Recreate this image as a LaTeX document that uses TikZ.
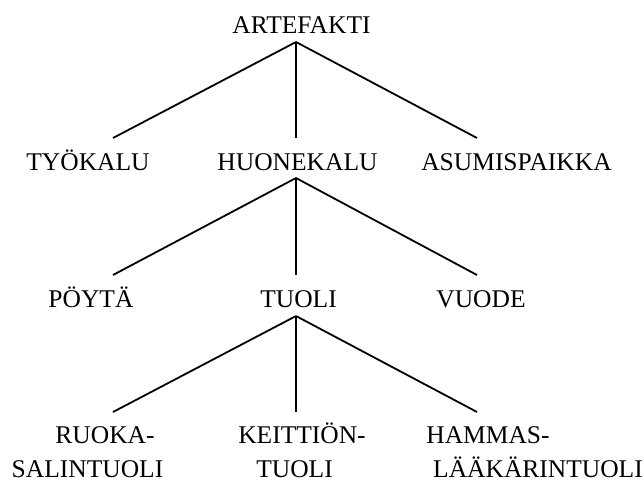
\documentclass[tikz,border=0pt]{standalone}
\usepackage{fontspec}
\setmainfont{Liberation Serif}
\begin{document}
\begin{tikzpicture}[x=1pt,y=-1pt,
  lbl/.style={anchor=base,inner sep=0pt,font=\fontsize{25.5}{30}\selectfont},
  edge/.style={line width=1.8pt}]
\useasboundingbox (0,0) rectangle (644,482);
% level 1
\node[lbl] (artefakti) at (301.5,33) {ARTEFAKTI};
% level 2
\node[lbl] (tyokalu) at (88,170) {TYÖKALU};
\node[lbl] (huonekalu) at (297.5,170) {HUONEKALU};
\node[lbl] (asumis) at (516.5,170) {ASUMISPAIKKA};
% level 3
\node[lbl] (poyta) at (91,307) {PÖYTÄ};
\node[lbl] (tuoli) at (298.5,307) {TUOLI};
\node[lbl] (vuode) at (481,307) {VUODE};
% level 4
\node[lbl] (ruoka) at (105,443) {RUOKA-};
\node[lbl] (ruoka2) at (87.5,477) {SALINTUOLI};
\node[lbl] (keittio) at (302,443) {KEITTIÖN-};
\node[lbl] (keittio2) at (294.5,477) {TUOLI};
\node[lbl] (hammas) at (488,443) {HAMMAS-};
\node[lbl] (hammas2) at (538,477) {LÄÄKÄRINTUOLI};
% connectors
\draw[edge] ([xshift=-5.5pt,yshift=-9pt]artefakti.base) -- ([xshift=25pt,yshift=32pt]tyokalu.base);
\draw[edge] ([xshift=-5.5pt,yshift=-9pt]artefakti.base) -- ([xshift=-1.5pt,yshift=32pt]huonekalu.base);
\draw[edge] ([xshift=-5.5pt,yshift=-9pt]artefakti.base) -- ([xshift=-39.5pt,yshift=32pt]asumis.base);
\draw[edge] ([xshift=-1.5pt,yshift=-8pt]huonekalu.base) -- ([xshift=22pt,yshift=32pt]poyta.base);
\draw[edge] ([xshift=-1.5pt,yshift=-8pt]huonekalu.base) -- ([xshift=-2.5pt,yshift=32pt]tuoli.base);
\draw[edge] ([xshift=-1.5pt,yshift=-8pt]huonekalu.base) -- ([xshift=-4pt,yshift=32pt]vuode.base);
\draw[edge] ([xshift=-2.5pt,yshift=-9pt]tuoli.base) -- ([xshift=8pt,yshift=31pt]ruoka.base);
\draw[edge] ([xshift=-2.5pt,yshift=-9pt]tuoli.base) -- ([xshift=-6pt,yshift=31pt]keittio.base);
\draw[edge] ([xshift=-2.5pt,yshift=-9pt]tuoli.base) -- ([xshift=-11pt,yshift=31pt]hammas.base);
\end{tikzpicture}
\end{document}
